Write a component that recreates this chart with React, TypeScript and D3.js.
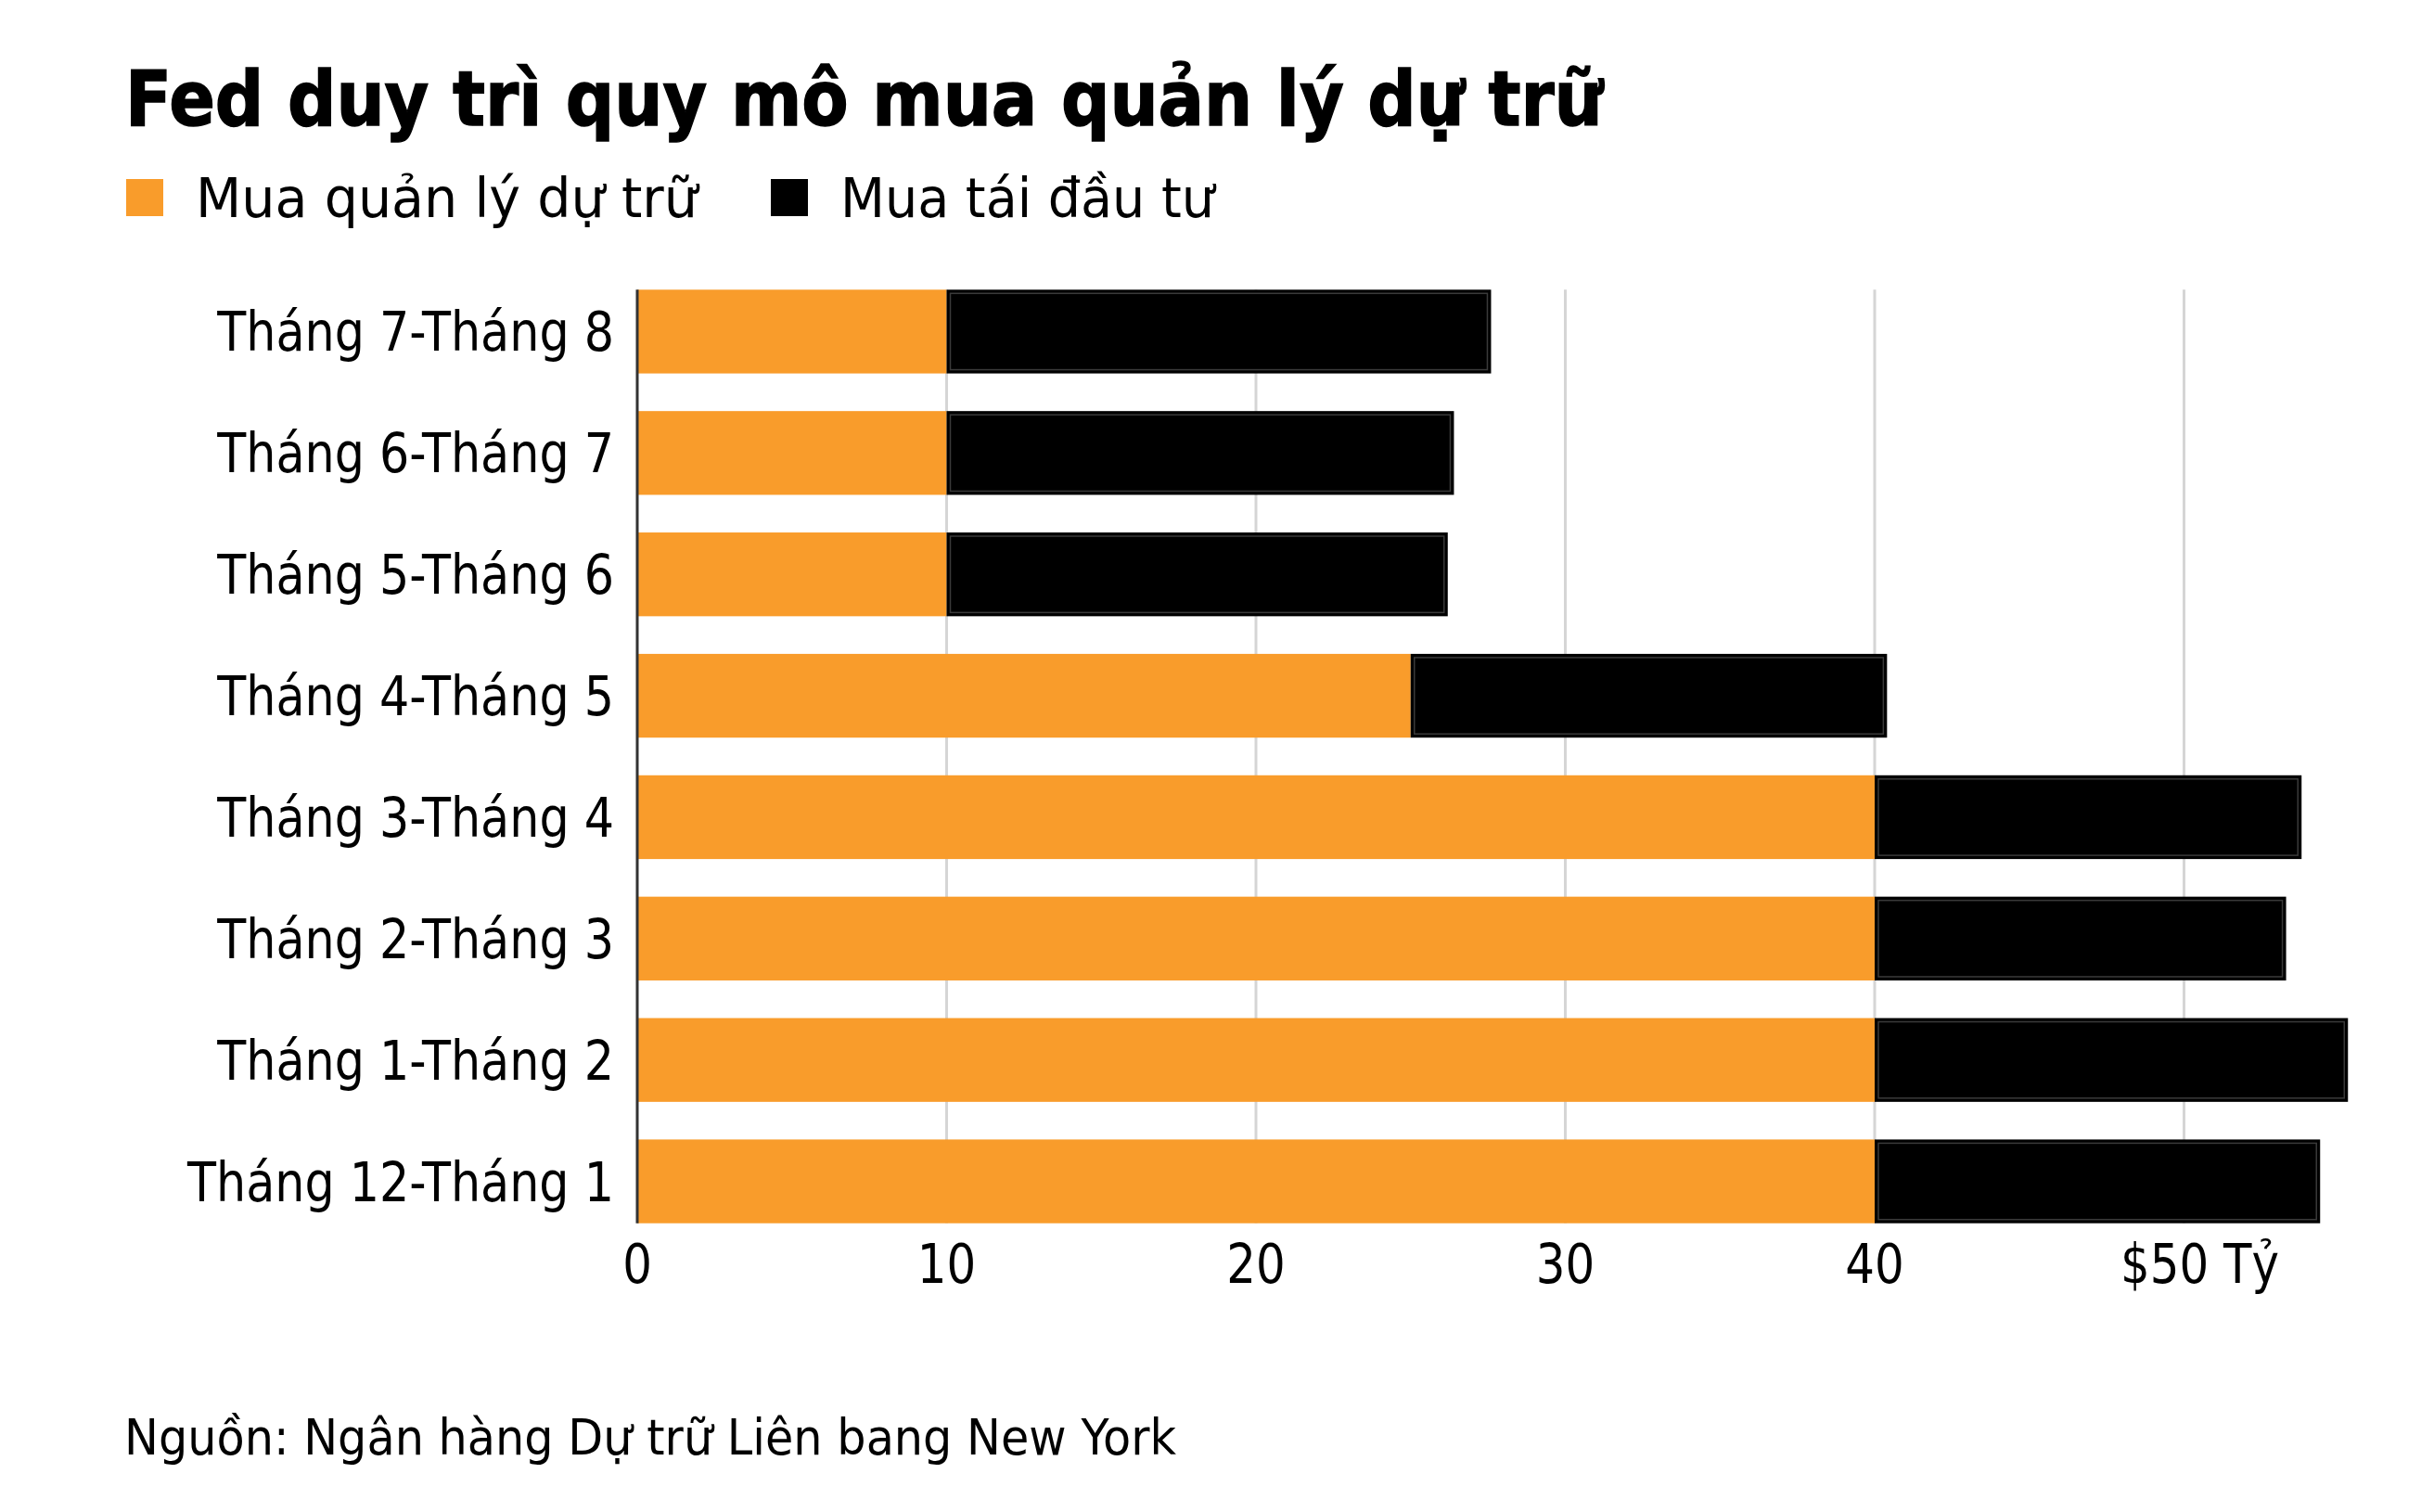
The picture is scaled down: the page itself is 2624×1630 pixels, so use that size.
import React from "react";
import * as d3 from "d3";

const categories = [
  "Tháng 7-Tháng 8",
  "Tháng 6-Tháng 7",
  "Tháng 5-Tháng 6",
  "Tháng 4-Tháng 5",
  "Tháng 3-Tháng 4",
  "Tháng 2-Tháng 3",
  "Tháng 1-Tháng 2",
  "Tháng 12-Tháng 1",
];
const reserveMgmt = [10, 10, 10, 25, 40, 40, 40, 40];
const reinvestment = [17.6, 16.4, 16.2, 15.4, 13.8, 13.3, 15.3, 14.4];
const tickValues = [0, 10, 20, 30, 40, 50];
const tickLabels = ["0", "10", "20", "30", "40", "$50 Tỷ"];
const seriesNames = ["Mua quản lý dự trữ", "Mua tái đầu tư"];
const seriesColors = ["#F99C2B", "#000000"];

const title = "Fed duy trì quy mô mua quản lý dự trữ";
const source = "Nguồn: Ngân hàng Dự trữ Liên bang New York";

const W = 2624;
const H = 1630;
const FONT = "'DejaVu Sans', Verdana, sans-serif";

export default function App() {
  const x = d3.scaleLinear().domain([0, 10]).range([687, 1020.5]);
  const y = d3
    .scaleBand<string>()
    .domain(categories)
    .range([292, 1339])
    .paddingInner(0.31)
    .paddingOuter(0.155);
  const top = y(categories[0])!;
  const bottom = y(categories[categories.length - 1])! + y.bandwidth();

  const stacked = categories.map((c, i) => {
    const a = reserveMgmt[i];
    const b = reinvestment[i];
    return { c, segs: [[0, a], [a, a + b]] };
  });

  return (
    <svg
      width={W}
      height={H}
      style={{ position: "absolute", left: 0, top: 0, background: "#fff" }}
      fontFamily={FONT}
    >
      <rect x={0} y={0} width={W} height={H} fill="#fff" />
      <text
        x={135}
        y={135}
        fontSize={82}
        fontWeight="bold"
        fill="#000"
        stroke="#000"
        strokeWidth={1.5}
        textLength={1593}
        lengthAdjust="spacingAndGlyphs"
      >
        {title}
      </text>

      {/* legend */}
      <rect x={136} y={193} width={40} height={40} fill={seriesColors[0]} />
      <text x={211} y={234} fontSize={58} fill="#000" textLength={541} lengthAdjust="spacingAndGlyphs">
        {seriesNames[0]}
      </text>
      <rect x={831} y={193} width={40} height={40} fill={seriesColors[1]} />
      <text x={906} y={234} fontSize={58} fill="#000" textLength={403} lengthAdjust="spacingAndGlyphs">
        {seriesNames[1]}
      </text>

      {/* grid */}
      {tickValues.slice(1).map((t) => (
        <line key={t} x1={x(t)} x2={x(t)} y1={top} y2={bottom} stroke="#d5d5d5" strokeWidth={3} />
      ))}

      {/* bars */}
      {stacked.map((d) => (
        <g key={d.c}>
          <rect
            x={x(d.segs[0][0])}
            y={y(d.c)}
            width={x(d.segs[0][1]) - x(d.segs[0][0])}
            height={y.bandwidth()}
            fill={seriesColors[0]}
          />
          <rect
            x={x(d.segs[1][0])}
            y={y(d.c)}
            width={x(d.segs[1][1]) - x(d.segs[1][0])}
            height={y.bandwidth()}
            fill={seriesColors[1]}
          />
          <rect
            x={x(d.segs[1][0]) + 4}
            y={y(d.c)! + 4}
            width={x(d.segs[1][1]) - x(d.segs[1][0]) - 8}
            height={y.bandwidth() - 8}
            fill="none"
            stroke="#3a3a3a"
            strokeWidth={1.5}
          />
          <text
            transform={`translate(662, ${y(d.c)! + y.bandwidth() / 2 + 21}) scale(0.875, 1)`}
            textAnchor="end"
            fontSize={58}
            fill="#000"
          >
            {d.c}
          </text>
        </g>
      ))}

      {/* axis line */}
      <line x1={x(0)} x2={x(0)} y1={top} y2={bottom} stroke="#333" strokeWidth={3} />

      {/* tick labels */}
      {tickValues.map((t, i) => (
        <text
          key={t}
          transform={`translate(${x(t) + (i === tickValues.length - 1 ? 17 : 0)}, 1383) scale(0.86, 1)`}
          textAnchor="middle"
          fontSize={58}
          fill="#000"
        >
          {tickLabels[i]}
        </text>
      ))}

      <text x={134} y={1568} fontSize={54} fill="#000" textLength={1134} lengthAdjust="spacingAndGlyphs">
        {source}
      </text>
    </svg>
  );
}
